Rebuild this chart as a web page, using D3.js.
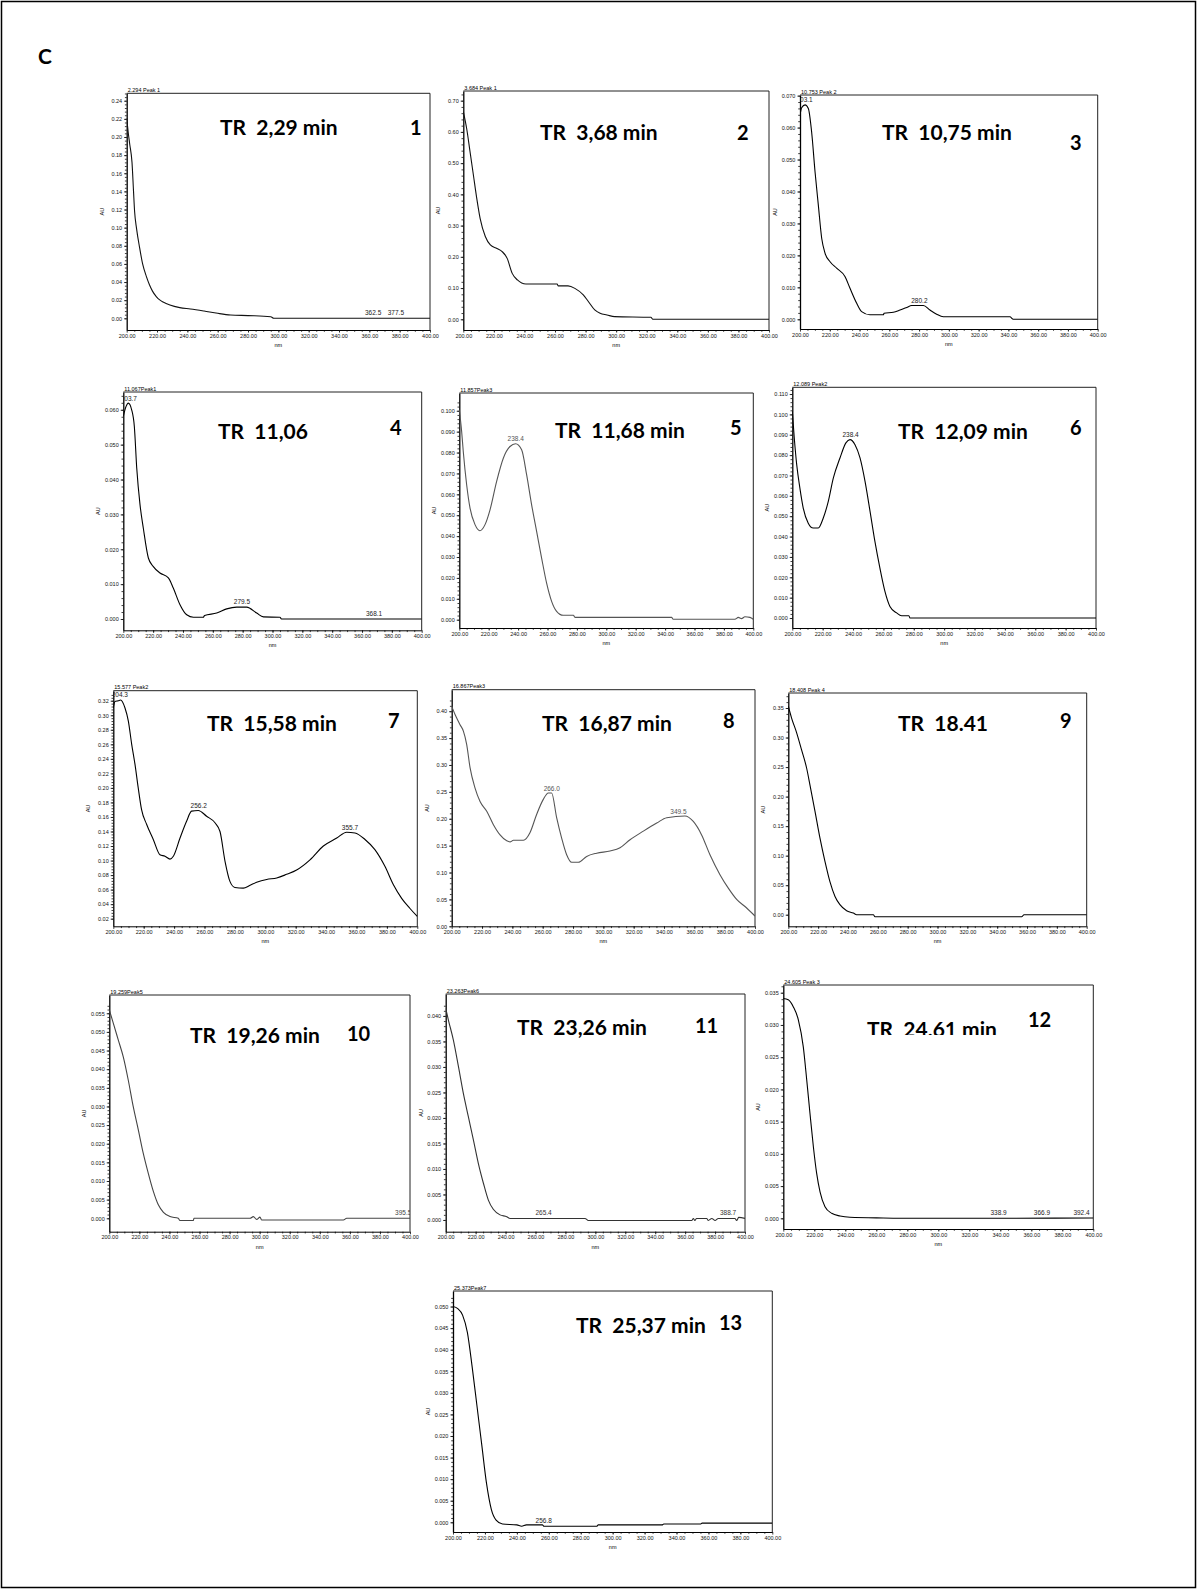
<!DOCTYPE html>
<html>
<head>
<meta charset="utf-8">
<script src="https://cdn.jsdelivr.net/npm/d3@7"></script>
<style>
body { margin: 0; background: #fff; }
svg { display: block; }
</style>
</head>
<body>
<div id="chart"></div>
<script>
// UV spectra (PDA) of the 13 peaks, panel C

const retentionLabels = ["TR  2,29 min", "TR  3,68 min", "TR  10,75 min", "TR  11,06", "TR  11,68 min",
    "TR  12,09 min", "TR  15,58 min", "TR  16,87 min", "TR  18.41", "TR  19,26 min", "TR  23,26 min",
    "TR  24.61 min", "TR  25,37 min"];
const panelNumbers = ["1", "2", "3", "4", "5", "6", "7", "8", "9", "10", "11", "12", "13"];
const peakHeaders = ["2.294 Peak 1", "3.684 Peak 1", "10.753 Peak 2", "11.067Peak1", "11.857Peak3",
    "12.089 Peak2", "15.577 Peak2", "16.867Peak3", "18.408 Peak 4", "19.259Peak5", "23.263Peak6",
    "24.605 Peak 3", "25.373Peak7"];

const xTicks = [200, 220, 240, 260, 280, 300, 320, 340, 360, 380, 400];
const xTickLabels = ["200.00", "220.00", "240.00", "260.00", "280.00", "300.00", "320.00", "340.00", "360.00", "380.00", "400.00"];

// y axis extent and tick spacing
const yDomains = [[-0.0129, 0.2482], [-0.0343, 0.731], [-0.00304, 0.0702], [-0.00324, 0.0651], [-0.00397, 0.1085],
    [-0.0049, 0.1133], [0.0095, 0.3338], [0, 0.44], [-0.0196, 0.3754], [-0.0036, 0.0599], [-0.0023, 0.0443],
    [-0.00166, 0.0362], [-0.00225, 0.0536]];
const yTickMin = [0, 0, 0, 0, 0, 0, 0.02, 0, 0, 0, 0, 0, 0];
const yTickMax = [0.24, 0.70, 0.070, 0.060, 0.100, 0.110, 0.32, 0.40, 0.35, 0.055, 0.040, 0.035, 0.050];
const yTickStep = [0.02, 0.10, 0.010, 0.010, 0.010, 0.010, 0.02, 0.05, 0.05, 0.005, 0.005, 0.005, 0.005];
const yTickFormat = [".2f", ".2f", ".3f", ".3f", ".3f", ".3f", ".2f", ".2f", ".2f", ".3f", ".3f", ".3f", ".3f"];

// spectra: [nm, AU]
const spectrum1 = [[200, 0.221], [201, 0.205], [202, 0.192], [203.5, 0.172], [204.5, 0.14], [205.2, 0.118], [206.5, 0.099],
    [208.5, 0.078], [210.5, 0.06], [213, 0.046], [215, 0.037], [217, 0.03], [219.5, 0.024], [222, 0.02], [224, 0.018],
    [228.5, 0.0147], [235, 0.0118], [242, 0.0103], [251, 0.008], [260, 0.0055], [268.5, 0.0037], [280, 0.003],
    [295, 0.0018], [297, 0.0], [400, 0.0]];
const spectrum2 = [[200, 0.665], [202.2, 0.611], [204.4, 0.537], [206.6, 0.462], [208.8, 0.387], [211, 0.323], [214.4, 0.265],
    [217.7, 0.238], [222, 0.227], [225.4, 0.217], [228.7, 0.195], [232, 0.147], [235.4, 0.126], [241, 0.113], [261.4, 0.113],
    [262, 0.107], [268.5, 0.107], [273, 0.099], [278.5, 0.078], [281.8, 0.057], [286, 0.030], [289.5, 0.019], [294, 0.0139],
    [299, 0.0085], [322.7, 0.0064], [324, 0.0], [400, 0.0]];
const spectrum3 = [[200, 0.0639], [201.1, 0.0662], [203.4, 0.0671], [205.6, 0.066], [207.8, 0.0587], [210.1, 0.0462],
    [212.3, 0.0358], [214.6, 0.0253], [216.8, 0.0207], [220.2, 0.018], [224.6, 0.016], [230.2, 0.0134], [233.6, 0.0097],
    [238.1, 0.005], [241.4, 0.0024], [247, 0.0014], [256, 0.0014], [256.5, 0.0019], [262.7, 0.0022], [267.2, 0.0029],
    [271.7, 0.0037], [275, 0.0043], [282.9, 0.0043], [287.3, 0.0029], [291.8, 0.0016], [296.3, 0.0008], [341, 0.0008],
    [343.3, 0.0], [400, 0.0]];
const spectrum4 = [[200, 0.0581], [201.8, 0.0609], [203.4, 0.0619], [205.6, 0.06], [207.4, 0.0552], [209, 0.0433],
    [211.2, 0.0328], [213.4, 0.0261], [216.8, 0.0175], [220, 0.0151], [224.6, 0.0132], [230.2, 0.0118], [233.5, 0.0089],
    [238, 0.0041], [242.5, 0.0012], [247, 0.0005], [253.6, 0.0005], [254.5, 0.001], [262.6, 0.0017], [269.3, 0.0029],
    [276, 0.0034], [282.7, 0.0034], [289.4, 0.0017], [293.9, 0.0006], [305, 0.0005], [306, 0.0], [400, 0.0]];
const spectrum5 = [[200, 0.1005], [201.6, 0.0901], [202.7, 0.0805], [205, 0.0646], [207.3, 0.0534], [210.7, 0.0455],
    [214, 0.0426], [217.5, 0.0455], [220.9, 0.0526], [225.4, 0.0662], [230, 0.0774], [234.5, 0.0829], [238.3, 0.0842],
    [242.4, 0.0813], [245.8, 0.0694], [249.2, 0.055], [252.6, 0.0423], [256, 0.0295], [259.4, 0.0175], [262.8, 0.0088],
    [266.2, 0.004], [270.7, 0.0021], [277.6, 0.0021], [278.7, 0.0011], [344.4, 0.0011], [345.5, 0.0002], [387.5, 0.0002],
    [389.8, 0.0011], [392, 0.0005], [394.3, 0.0014], [397.7, 0.0011], [400, 0.0002]];
const spectrum6 = [[200, 0.1015], [201.3, 0.0884], [202.9, 0.0753], [205, 0.0638], [207.2, 0.054], [210.5, 0.0466],
    [213.8, 0.0442], [217.1, 0.0442], [220.4, 0.0491], [223.7, 0.0573], [227, 0.0687], [231.4, 0.0786], [235.3, 0.086],
    [238, 0.0876], [241.3, 0.0851], [244.6, 0.0786], [247.9, 0.0671], [251.2, 0.0524], [254.4, 0.0376], [257.7, 0.0245],
    [261, 0.0131], [264.3, 0.0057], [268.7, 0.0025], [272, 0.0011], [276.8, 0.0011], [277.5, 0.0], [400, 0.0]];
const spectrum7 = [[200, 0.31], [201.1, 0.319], [203.3, 0.32], [204.8, 0.321], [207.7, 0.31], [209.9, 0.292], [212.1, 0.26],
    [214.3, 0.232], [216.4, 0.2], [218.6, 0.17], [221.9, 0.15], [226.3, 0.129], [230.7, 0.108], [234, 0.106], [237.3, 0.102],
    [239.5, 0.106], [243.9, 0.131], [248.2, 0.154], [251.5, 0.168], [255.9, 0.169], [261.4, 0.161], [266.9, 0.152],
    [270.2, 0.14], [273.5, 0.099], [276.8, 0.071], [280, 0.063], [285.5, 0.062], [290, 0.066], [294.3, 0.07], [300.9, 0.074],
    [307.5, 0.076], [314, 0.081], [320.6, 0.087], [329.4, 0.101], [338.2, 0.12], [347, 0.131], [353.5, 0.139], [359, 0.138],
    [365.6, 0.129], [372.1, 0.115], [378.7, 0.092], [384.2, 0.067], [389.7, 0.048], [395.2, 0.034], [400, 0.023]];
const spectrum8 = [[200, 0.409], [202.2, 0.394], [205.5, 0.375], [207.7, 0.363], [209.9, 0.338], [212.1, 0.295], [215.4, 0.257],
    [218.7, 0.232], [223.1, 0.214], [227.5, 0.189], [231.9, 0.17], [236.3, 0.159], [238.5, 0.157], [240.7, 0.16], [247.3, 0.16],
    [251.6, 0.174], [256, 0.208], [260.4, 0.236], [263.7, 0.248], [265.9, 0.248], [269.2, 0.202], [272.5, 0.164],
    [275.8, 0.133], [279.1, 0.119], [283.5, 0.119], [289, 0.13], [295.6, 0.136], [304.4, 0.14], [311, 0.146], [317.6, 0.161],
    [326.4, 0.177], [335.2, 0.192], [341.8, 0.202], [353.8, 0.205], [359.3, 0.195], [364.8, 0.17], [370.3, 0.133],
    [376.9, 0.096], [382.4, 0.071], [387.9, 0.05], [394.5, 0.034], [400, 0.019]];
const spectrum9 = [[200, 0.353], [202.2, 0.333], [205.6, 0.308], [208.9, 0.279], [212.3, 0.248], [214.5, 0.22], [217.9, 0.175],
    [221.2, 0.13], [224.6, 0.09], [227.9, 0.056], [231.3, 0.031], [234.6, 0.017], [239.1, 0.0068], [243.6, 0.0028],
    [245.8, 0.0], [257, 0.0], [258.1, -0.0034], [356.4, -0.0034], [358, 0.0], [400, 0.0]];
const spectrum10 = [[200, 0.0559], [202.7, 0.0523], [206, 0.0478], [209.3, 0.0433], [212.6, 0.0371], [215.9, 0.03],
    [219.3, 0.0237], [222.6, 0.0174], [225.9, 0.0121], [229.3, 0.0072], [232.6, 0.0036], [236, 0.0016], [240.4, 0.00045],
    [245.9, 0.0], [247, -0.0006], [255.9, -0.0006], [256.3, 0.0], [293.6, 0.0], [295.8, 0.00045], [298, -0.0003],
    [300.2, 0.0003], [301.3, -0.00045], [355.7, -0.00045], [357.9, 0.0], [400, 0.0]];
const spectrum11 = [[200, 0.0415], [201.8, 0.0392], [205.1, 0.0353], [208.5, 0.0301], [211.8, 0.0248], [215.1, 0.0203],
    [218.5, 0.0157], [221.8, 0.0111], [225.2, 0.0072], [228.5, 0.0039], [231.8, 0.0021], [236.3, 0.001], [240.8, 0.00065],
    [243, 0.0003], [293.1, 0.0003], [295.3, -0.0001], [364.4, -0.0001], [365.5, 0.0003], [366.5, -0.0001], [367.6, 0.0003],
    [374.4, 0.0003], [375.5, -0.0001], [377.8, 0.0003], [380, -0.0001], [382.2, 0.0003], [393.3, 0.0003], [394.4, -0.0001],
    [395.8, 0.0005], [400, 0.0003]];
const spectrum12 = [[200, 0.0341], [203.2, 0.0339], [206.5, 0.0328], [209.7, 0.0308], [212.9, 0.0266], [215.1, 0.0215],
    [217.2, 0.0163], [219.4, 0.0111], [221.5, 0.007], [223.7, 0.0041], [226.9, 0.0018], [231.2, 0.00078], [236.6, 0.00036],
    [243, 0.00016], [264.5, 0.00005], [286, 0.0], [329, 0.0], [400, 0.00005]];
const spectrum13 = [[200, 0.050], [203, 0.0495], [206, 0.048], [209, 0.044], [212, 0.036], [215, 0.027], [218, 0.018],
    [221, 0.009], [224, 0.003], [227, 0.0005], [231, -0.0004], [240, -0.0006], [243, -0.0009], [246, -0.0006], [256, -0.0006],
    [257, -0.0009], [290, -0.0009], [291, -0.0006], [331, -0.0006], [332, -0.0004], [355, -0.0004], [356, -0.0002],
    [400, -0.0002]];

// annotated maxima (nm)
const peaks1 = [362.5, 377.5];
const peaks2 = [];
const peaks3 = [203.1, 280.2];
const peaks4 = [203.7, 279.5, 368.1];
const peaks5 = [238.4];
const peaks6 = [238.4];
const peaks7 = [204.3, 256.2, 355.7];
const peaks8 = [266.0, 349.5];
const peaks9 = [];
const peaks10 = [395.5];
const peaks11 = [265.4, 388.7];
const peaks12 = [338.9, 366.9, 392.4];
const peaks13 = [256.8];

const spectra = [spectrum1, spectrum2, spectrum3, spectrum4, spectrum5, spectrum6, spectrum7,
    spectrum8, spectrum9, spectrum10, spectrum11, spectrum12, spectrum13];
const peaks = [peaks1, peaks2, peaks3, peaks4, peaks5, peaks6, peaks7, peaks8, peaks9, peaks10, peaks11, peaks12, peaks13];

// layout: plot frames [left, top, right, bottom] and label anchors
const frames = [[126.7, 93.3, 430, 330], [463.3, 91, 769, 330], [800, 95, 1097.7, 329],
    [123.3, 392, 421.7, 630.3], [459.3, 393, 753.3, 628], [792.3, 387.3, 1096, 628],
    [113.3, 690.7, 417.3, 926.3], [451.7, 689.7, 755, 926.3], [788.3, 693, 1086.7, 926.3],
    [109.3, 995, 410, 1231.7], [445.7, 994, 745, 1231.7], [783.3, 985, 1093.3, 1229],
    [453, 1291, 772.3, 1532]];
const trPos = [[220, 135], [540, 140], [882, 140], [218, 439], [555, 438], [898, 439], [207, 731], [542, 731],
    [898, 731], [190, 1043], [517, 1035], [867, 1036.5], [576, 1333]];
const numPos = [[410, 135], [737, 140], [1070, 150], [390, 435], [730, 435], [1070, 435], [388, 728], [723, 728],
    [1060, 728], [347, 1041], [695, 1033], [1028, 1027], [719, 1330]];
const lineColors = ['#111', '#111', '#000', '#000', '#555', '#000', '#000', '#555', '#000', '#444', '#333', '#000', '#000'];

const svg = d3.select('#chart').append('svg')
    .attr('width', 1197)
    .attr('height', 1589);

svg.append('rect')
    .attr('x', 1.5).attr('y', 1.5)
    .attr('width', 1194).attr('height', 1586)
    .attr('fill', 'none')
    .attr('stroke', '#000')
    .attr('stroke-width', 1.5);

svg.append('text')
    .attr('x', 38).attr('y', 64)
    .attr('font-family', 'Lato, sans-serif')
    .attr('font-weight', 700)
    .attr('font-size', '21px')
    .text('C');

const smallFont = '"Liberation Sans", Arial, sans-serif';

function valueAt(data, nm) {
    const i = d3.bisector(d => d[0]).left(data, nm);
    if (i <= 0) return data[0][1];
    if (i >= data.length) return data[data.length - 1][1];
    const a = data[i - 1], b = data[i];
    return a[1] + (b[1] - a[1]) * (nm - a[0]) / (b[0] - a[0]);
}

function drawPanel(i) {
    const [l, t, r, b] = frames[i];
    const data = spectra[i];
    const color = lineColors[i];
    const g = svg.append('g');

    const x = d3.scaleLinear().domain([200, 400]).range([l, r]);
    const y = d3.scaleLinear().domain(yDomains[i]).range([b, t]);

    const clipId = 'clip' + i;
    svg.append('clipPath').attr('id', clipId)
        .append('rect')
        .attr('x', l).attr('y', t)
        .attr('width', r - l).attr('height', b - t);

    // frame top + right
    g.append('path')
        .attr('d', `M${l},${t}H${r}V${b}`)
        .attr('fill', 'none')
        .attr('stroke', '#222')
        .attr('stroke-width', 1);

    // x axis, minor then major
    g.append('g')
        .attr('transform', `translate(0,${b})`)
        .call(d3.axisBottom(x).tickValues(d3.range(205, 400, 5)).tickSize(1.8).tickSizeOuter(0).tickFormat(''))
        .call(a => a.select('.domain').remove());

    const xg = g.append('g')
        .attr('transform', `translate(0,${b})`)
        .call(d3.axisBottom(x)
            .tickValues(xTicks)
            .tickFormat((d, j) => xTickLabels[j])
            .tickSize(2.6)
            .tickSizeOuter(0)
            .tickPadding(1));

    xg.selectAll('text')
        .attr('font-family', smallFont)
        .attr('font-size', '5.5px')
        .attr('fill', '#111');

    // y axis
    const ticks = d3.range(yTickMin[i], yTickMax[i] + yTickStep[i] / 2, yTickStep[i]);
    const minor = d3.range(yTickMin[i], yTickMax[i] + yTickStep[i] / 2, yTickStep[i] / 5)
        .filter(v => v >= yDomains[i][0] && v <= yDomains[i][1]);

    g.append('g')
        .attr('transform', `translate(${l},0)`)
        .call(d3.axisLeft(y).tickValues(minor).tickSize(1.8).tickSizeOuter(0).tickFormat(''))
        .call(a => a.select('.domain').remove());

    const yg = g.append('g')
        .attr('transform', `translate(${l},0)`)
        .call(d3.axisLeft(y)
            .tickValues(ticks)
            .tickFormat(d3.format(yTickFormat[i]))
            .tickSize(2.6)
            .tickSizeOuter(0)
            .tickPadding(2));

    yg.select('.domain').attr('stroke-width', 1.3);
    yg.selectAll('text')
        .attr('font-family', smallFont)
        .attr('font-size', '5.5px')
        .attr('fill', '#111');

    g.selectAll('.tick line').attr('stroke', '#111').attr('stroke-width', 0.8);

    // axis titles
    g.append('text')
        .attr('transform', `translate(${l - 23},${(t + b) / 2}) rotate(-90)`)
        .attr('text-anchor', 'middle')
        .attr('font-family', smallFont)
        .attr('font-size', '5.5px')
        .text('AU');

    g.append('text')
        .attr('x', (l + r) / 2)
        .attr('y', b + 17)
        .attr('text-anchor', 'middle')
        .attr('font-family', smallFont)
        .attr('font-size', '5.5px')
        .text('nm');

    g.append('text')
        .attr('x', l + 1)
        .attr('y', t - 1.5)
        .attr('font-family', smallFont)
        .attr('font-size', '5.5px')
        .text(peakHeaders[i]);

    // spectrum
    const line = d3.line()
        .x(d => x(d[0]))
        .y(d => y(d[1]))
        .curve(d3.curveMonotoneX);

    const plot = g.append('g').attr('clip-path', `url(#${clipId})`);

    plot.append('path')
        .datum(data)
        .attr('fill', 'none')
        .attr('stroke', color)
        .attr('stroke-width', 1.1)
        .attr('d', line);

    plot.selectAll('.peak')
        .data(peaks[i])
        .enter()
        .append('text')
        .attr('class', 'peak')
        .attr('x', d => x(d))
        .attr('y', d => y(valueAt(data, d)) - 3)
        .attr('text-anchor', 'middle')
        .attr('font-family', smallFont)
        .attr('font-size', '6.5px')
        .attr('fill', color === '#000' || color === '#111' ? '#222' : color)
        .text(d => d3.format('.1f')(d));

    // retention time and compound number
    const big = g.append('g');
    if (i === 11) {
        // the pasted image cuts this label off at the bottom
        svg.append('clipPath').attr('id', 'trclip')
            .append('rect').attr('x', 0).attr('y', 0).attr('width', 1197).attr('height', 1035);
        big.attr('clip-path', 'url(#trclip)');
    }
    big.append('text')
        .attr('x', trPos[i][0])
        .attr('y', trPos[i][1])
        .attr('font-family', 'Lato, sans-serif')
        .attr('font-weight', 700)
        .attr('font-size', '21px')
        .style('white-space', 'pre')
        .text(retentionLabels[i]);

    g.append('text')
        .attr('x', numPos[i][0])
        .attr('y', numPos[i][1])
        .attr('font-family', 'Lato, sans-serif')
        .attr('font-weight', 700)
        .attr('font-size', '20px')
        .text(panelNumbers[i]);
}

spectra.forEach((d, i) => drawPanel(i));
</script>
</body>
</html>
